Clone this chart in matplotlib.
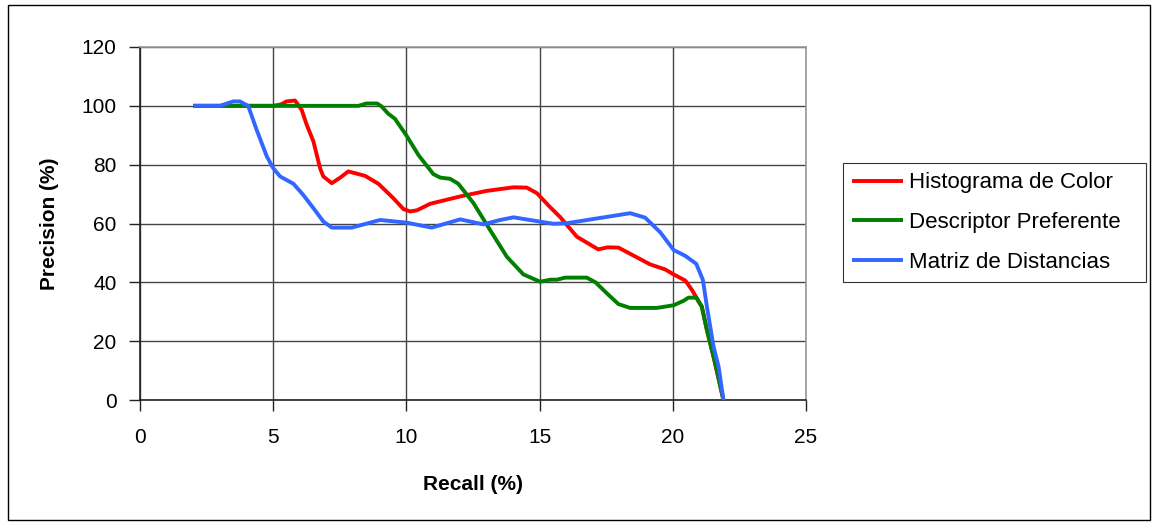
import matplotlib
matplotlib.use("Agg")
import matplotlib.pyplot as plt
from matplotlib.patches import Rectangle

plt.rcParams['font.family'] = ['Liberation Sans', 'DejaVu Sans']

# Recall / precision curves for three retrieval descriptors
hist_recall = [2.0, 3.0, 4.0, 5.0, 5.3, 5.5, 5.82, 6.07, 6.26, 6.51, 6.76, 6.88, 7.2, 7.5, 7.82,
               8.45, 8.95, 9.51, 9.89, 10.14, 10.4, 10.89, 12.02, 13.02, 14.02, 14.52, 14.9,
               15.4, 15.77, 16.4, 17.2, 17.55, 17.96, 18.65, 19.15, 19.71, 20.03, 20.47, 20.72,
               21.09, 21.28, 21.53, 21.9]
hist_precision = [100, 100, 100, 100, 100.5, 101.5, 101.8, 98.6, 93.5, 87.9, 78.8, 76, 73.7, 75.5,
                  77.7, 76.2, 73.5, 68.6, 64.9, 64.1, 64.5, 66.7, 69.2, 71.1, 72.3, 72.2, 70.3,
                  65.5, 62.2, 55.5, 51.2, 51.9, 51.8, 48.5, 46.1, 44.4, 42.7, 40.6, 37.4,
                  31.7, 23.8, 14.7, 0]

pref_recall = [2.0, 3.0, 5.0, 7.0, 8.2, 8.5, 8.9, 9.07, 9.32, 9.57, 10.01, 10.45, 11.01, 11.27,
               11.64, 11.95, 12.52, 13.14, 13.77, 14.39, 15.02, 15.4, 15.65, 15.96, 16.77, 17.1,
               17.52, 17.96, 18.4, 19.4, 20.03, 20.4, 20.59, 20.88, 21.09, 21.28, 21.59, 21.9]
pref_precision = [100, 100, 100, 100, 100, 100.8, 100.8, 99.8, 97.3, 95.6, 89.8, 83.3, 76.8, 75.6,
                  75.2, 73.5, 66.9, 57.8, 48.7, 42.7, 40.2, 40.9, 40.9, 41.6, 41.6, 40.0,
                  36.3, 32.6, 31.3, 31.3, 32.2, 33.7, 34.8, 34.8, 31.7, 23.8, 12.5, 0]

dist_recall = [2.0, 3.0, 3.5, 3.75, 4.06, 4.38, 4.76, 5.0, 5.26, 5.76, 6.13, 6.51, 6.88, 7.2,
               7.95, 9.01, 10.0, 10.95, 12.02, 12.89, 13.52, 14.02, 15.52, 16.02, 18.4, 18.96,
               19.53, 20.03, 20.47, 20.88, 21.13, 21.28, 21.53, 21.72, 21.9]
dist_precision = [100, 100, 101.5, 101.5, 100, 91.8, 82.8, 78.8, 76, 73.5, 69.7, 65.2, 60.7, 58.6,
                  58.6, 61.2, 60.3, 58.6, 61.4, 59.7, 61.2, 62.1, 59.9, 60.1, 63.5, 62.0,
                  57.0, 51.0, 49.0, 46.3, 40.8, 31.7, 18.1, 11.3, 0]

series_names = ["Histograma de Color", "Descriptor Preferente", "Matriz de Distancias"]
series_colors = ["#FF0000", "#008000", "#3366FF"]

x_ticks = [0, 5, 10, 15, 20, 25]
y_ticks = [0, 20, 40, 60, 80, 100, 120]

W, H = 1153, 524
fig = plt.figure(figsize=(W / 100, H / 100), dpi=100)
ax = fig.add_axes([140 / W, 1 - 400 / H, (806 - 140) / W, (400 - 47) / H])

for xs, ys, name, col in zip([hist_recall, pref_recall, dist_recall],
                             [hist_precision, pref_precision, dist_precision],
                             series_names, series_colors):
    ax.plot(xs, ys, color=col, lw=2.8, label=name, solid_capstyle='butt', zorder=3)

ax.set_xlim(0, 25)
ax.set_ylim(0, 120)
ax.set_xticks(x_ticks)
ax.set_yticks(y_ticks)
ax.grid(True, color='#444444', lw=1.0, zorder=1)
ax.set_axisbelow(True)

for side in ('left', 'bottom'):
    ax.spines[side].set_color('#222222')
    ax.spines[side].set_linewidth(1.2)
for side in ('top', 'right'):
    ax.spines[side].set_color('#999999')
    ax.spines[side].set_linewidth(1.2)

ax.tick_params(axis='both', direction='out', length=8, width=1, color='#222222',
               labelsize=15)
ax.tick_params(axis='x', pad=12)
ax.tick_params(axis='y', pad=9)

ax.set_xlabel("Recall (%)", fontsize=15, fontweight='bold', labelpad=20)
ax.set_ylabel("Precision (%)", fontsize=15, fontweight='bold', labelpad=16)

leg = fig.legend(loc='upper left',
                 bbox_to_anchor=(843 / W, 1 - 284 / H, (1146 - 843) / W, (284 - 163) / H),
                 mode='expand', frameon=True, fancybox=False, edgecolor='#000000',
                 fontsize=16, handlelength=2.3, handletextpad=0.25, labelspacing=0.85,
                 borderpad=0.42, borderaxespad=0)
leg.get_frame().set_linewidth(0.8)

fig.patches.append(Rectangle((8 / W, 4 / H), (1150 - 8) / W, (519 - 4) / H,
                             transform=fig.transFigure, fill=False,
                             edgecolor='#000000', lw=1.0))

fig.savefig("out.png", dpi=100, facecolor='white')
